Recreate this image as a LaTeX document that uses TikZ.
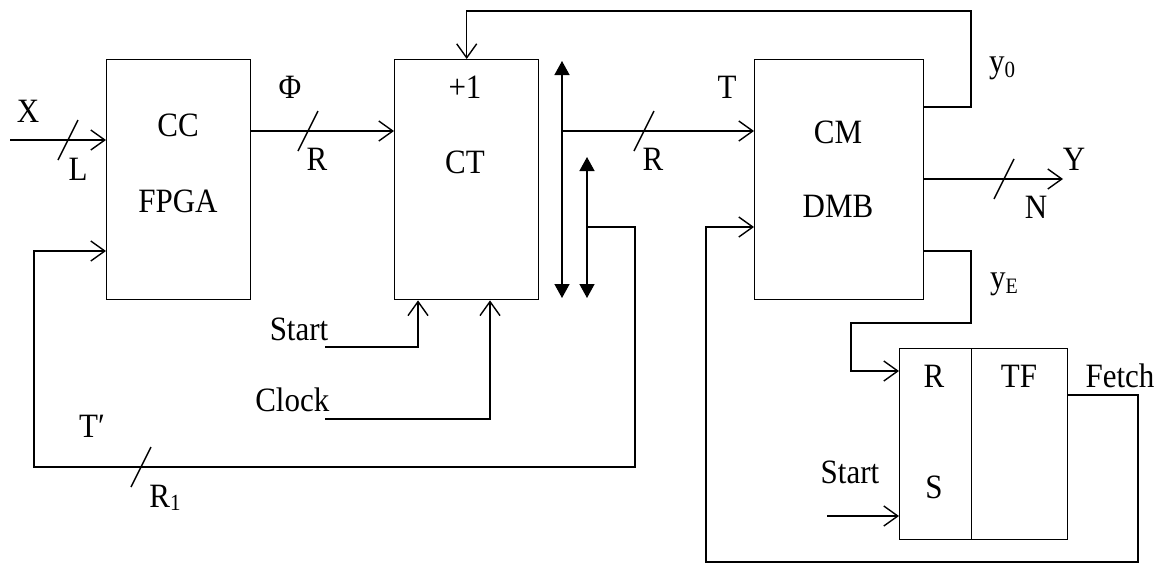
\documentclass[tikz,border=0pt]{standalone}
\usepackage{fontspec}
\setmainfont{Liberation Serif}
\usetikzlibrary{arrows.meta,calc}
\newcommand\tx[1]{\scalebox{1}[1.1]{#1}}
\begin{document}
\begin{tikzpicture}[x=1pt,y=-1pt,line width=1.4pt,
  blk/.style={draw,inner sep=0pt,anchor=north west},
  lbl/.style={inner sep=0pt,font=\fontsize{31}{36}\selectfont,anchor=base},
  lble/.style={lbl,anchor=base east},
  arr/.style={-{Straight Barb[length=14pt,width=20pt]}},
  bus/.style={{Triangle[length=14pt,width=15pt]}-{Triangle[length=14pt,width=15pt]}},
  slash/.style={line width=1.4pt}]
\useasboundingbox (0,0) rectangle (1165,563);
% blocks
\node[blk,minimum width=144pt,minimum height=240pt] (cc) at (106,59) {};
\node[blk,minimum width=144pt,minimum height=240pt] (ct) at (394,59) {};
\node[blk,minimum width=169pt,minimum height=240pt] (cm) at (754,59) {};
\node[blk,minimum width=72pt,minimum height=191pt] (rs) at (899,348) {};
\node[blk,minimum width=96pt,minimum height=191pt] (tf) at (971,348) {};
% block texts
\node[lbl] (tcc) at (178,136) {\tx{CC}};
\node[lbl] (tfpga) at (178,212) {\tx{FPGA}};
\node[lbl] (tp1) at (465,98) {\tx{+1}};
\node[lbl] (tct) at (465,173) {\tx{CT}};
\node[lbl] (tcm) at (838,143) {\tx{CM}};
\node[lbl] (tdmb) at (838,217) {\tx{DMB}};
\node[lbl] (tr) at (934,387) {\tx{R}};
\node[lbl] (ts) at (934,498) {\tx{S}};
\node[lbl] (ttf) at (1019,387) {\tx{TF}};
% signal labels
\node[lbl] (lx) at (28,122) {\tx{X}};
\node[lbl] (ll) at (78,180) {\tx{L}};
\node[lbl] (lphi) at (290,98) {\tx{Φ}};
\node[lbl] (lr1) at (317,170) {\tx{R}};
\node[lbl] (lt) at (727,98) {\tx{T}};
\node[lbl] (lr2) at (653,170) {\tx{R}};
\node[lbl] (ly0) at (1002,72) {\tx{y\raisebox{-5pt}{\fontsize{21}{21}\selectfont 0}}};
\node[lbl] (lY) at (1074,170) {\tx{Y}};
\node[lbl] (lN) at (1036,218) {\tx{N}};
\node[lbl] (lyE) at (1004,288) {\tx{y\raisebox{-5pt}{\fontsize{20}{20}\selectfont E}}};
\node[lble] (lstart) at (329,340) {\tx{Start}};
\node[lble] (lclock) at (330,411) {\tx{Clock}};
\node[lbl] (ltp) at (92,437) {\tx{T′}};
\node[lbl] (lR1) at (165,507) {\tx{R\raisebox{-3pt}{\fontsize{21}{21}\selectfont 1}}};
\node[lbl] (lfetch) at (1120,387) {\tx{Fetch}};
\node[lbl] (lstart2) at (850,483) {\tx{Start}};
% coordinates
\coordinate (xin) at (10,140);
\coordinate (b1t) at (562,61);
\coordinate (b1b) at (562,298);
\coordinate (b2t) at (587,157);
\coordinate (b2b) at (587,298);
\coordinate (b2j) at (587,227);
\coordinate (tb) at (562,131);
\coordinate (s1) at (325,347);
\coordinate (c1) at (325,419);
\coordinate (st2) at (827,516);
% connectors
\draw[arr] (xin) -- (xin -| cc.west);
\draw[arr] ($(cc.north east)+(0,72)$) -- ($(ct.north west)+(0,72)$);
\draw[arr] ($(cm.north east)+(0,48)$) -| (971,11) -| (ct.north);
\draw[bus] (b1t) -- (b1b);
\draw[bus] (b2t) -- (b2b);
\draw[arr] (tb) -- (tb -| cm.west);
\draw[arr] (b2j) -| (635,467) -| (34,251) -- ($(cc.north west)+(0,192)$);
\draw[arr] (s1) -| ($(ct.south west)+(24,0)$);
\draw[arr] (c1) -| ($(ct.south west)+(96,0)$);
\draw[arr] ($(tf.north east)+(0,47)$) -| (1138,562) -| (706,227) -- ($(cm.north west)+(0,168)$);
\draw[arr] ($(cm.north east)+(0,120)$) -- (1063,179);
\draw[arr] ($(cm.north east)+(0,192)$) -| (971,323) -| (851,371) -- ($(rs.north west)+(0,23)$);
\draw[arr] (st2) -- (st2 -| rs.west);
% bus-width slashes
\draw[slash] (58,160) -- (78,120);
\draw[slash] (298,151) -- (318,111);
\draw[slash] (634,151) -- (654,111);
\draw[slash] (994,199) -- (1014,159);
\draw[slash] (131,487) -- (151,447);
\end{tikzpicture}
\end{document}
